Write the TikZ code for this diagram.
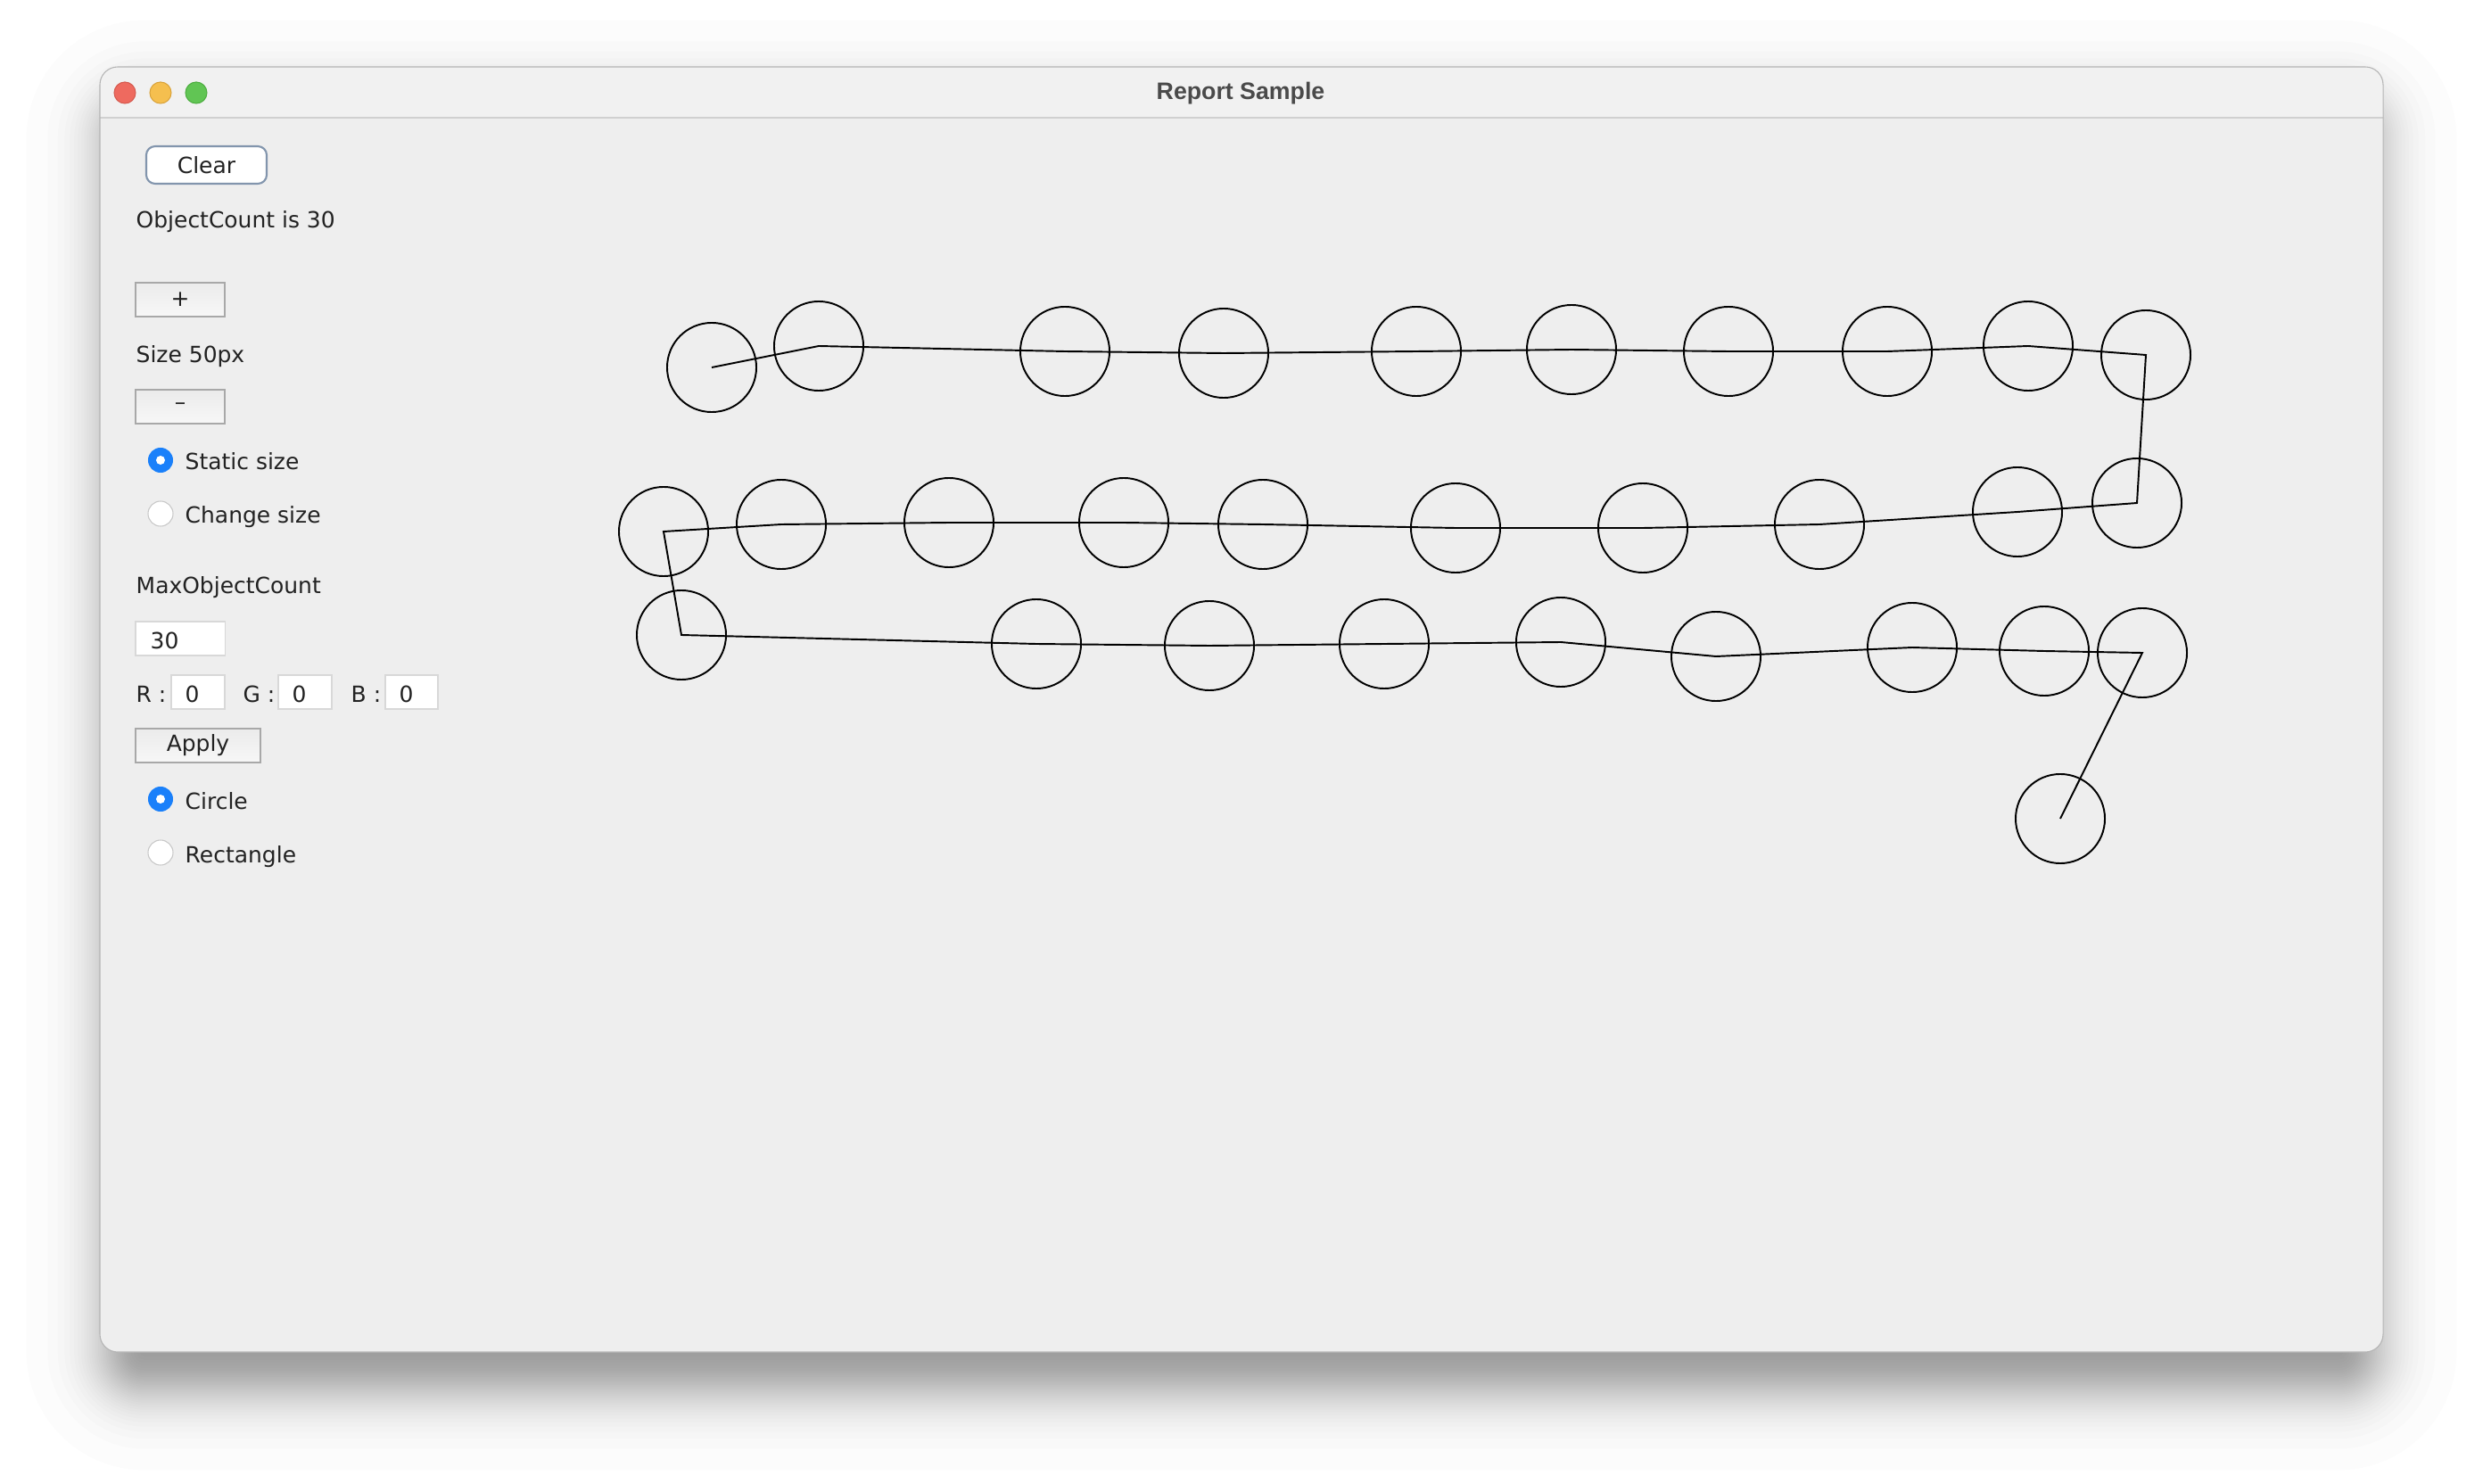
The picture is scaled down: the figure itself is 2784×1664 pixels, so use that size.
\documentclass[tikz,border=0pt]{standalone}
\usepackage{fontspec}
\setmainfont{DejaVu Sans}
\newfontfamily\titlefont{Liberation Sans}
\definecolor{winbody}{HTML}{EEEEEE}
\definecolor{titlebar}{HTML}{F1F1F1}
\definecolor{sepline}{HTML}{D0D0D0}
\definecolor{winborder}{HTML}{B4B4B4}
\definecolor{txt}{HTML}{222222}
\definecolor{titletxt}{HTML}{4A4A4A}
\definecolor{clearborder}{HTML}{8295AD}
\definecolor{btnborder}{HTML}{A8A8A8}
\definecolor{btntop}{HTML}{EBEBEB}
\definecolor{btnbot}{HTML}{F7F7F7}
\definecolor{fieldborder}{HTML}{D8D8D8}
\definecolor{radioblue}{HTML}{1A80FA}
\definecolor{radiogray}{HTML}{C8C8C8}
\definecolor{tlred}{HTML}{EE6A5F}
\definecolor{tlredb}{HTML}{D55A4F}
\definecolor{tlyel}{HTML}{F5BF4F}
\definecolor{tlyelb}{HTML}{D9A33C}
\definecolor{tlgrn}{HTML}{61C554}
\definecolor{tlgrnb}{HTML}{4DAD40}
\tikzset{
  uifont/.style={font=\fontsize{7.1pt}{8.5pt}\selectfont, text=txt},
  lbl/.style={uifont, anchor=base west, inner sep=0pt},
  light/.style={circle, minimum size=0.24cm, inner sep=0pt, line width=0.3pt},
  btn/.style={uifont, rectangle, draw=btnborder, line width=0.55pt, top color=btntop, bottom color=btnbot, minimum width=1cm, minimum height=0.38cm, inner sep=0pt},
  field/.style={rectangle, fill=white, draw=fieldborder, line width=0.3pt, minimum height=0.38cm, inner sep=0pt},
  radioon/.style={circle, fill=radioblue, minimum size=0.28cm, inner sep=0pt},
  radiodot/.style={circle, fill=white, minimum size=0.1cm, inner sep=0pt},
  radiooff/.style={circle, fill=white, draw=radiogray, line width=0.3pt, minimum size=0.28cm, inner sep=0pt},
  obj/.style={circle, draw=black, line width=0.55pt, minimum size=1cm, inner sep=0pt},
  link/.style={draw=black, line width=0.55pt, line join=miter},
  shadowlayer/.style={fill=black, fill opacity=0.0127}
}
\begin{document}
\begin{tikzpicture}[x=0.01cm, y=-0.01cm]
\useasboundingbox (0,0) rectangle (2784,1664);
\fill[white] (0,0) rectangle (2784,1664);
% soft window shadow (layered, gaussian-like)
\foreach \k in {1,...,40} {
  \pgfmathsetmacro\p{(\k-0.5)/40}
  \pgfmathsetmacro\e{36*ln(\p/(1-\p))/1.702}
  \pgfmathsetmacro\rr{max(2,40+\e)*0.01}
  \path[shadowlayer, rounded corners=\rr cm] (122-\e,115-\e) rectangle (2662+\e,1556+\e);
}
% window
\path[fill=winbody, rounded corners=0.2cm] (112,75) rectangle (2672,1516);
\begin{scope}
  \clip[rounded corners=0.2cm] (112,75) rectangle (2672,1516);
  \fill[titlebar] (112,75) rectangle (2672,132);
\end{scope}
\draw[sepline, line width=0.3pt] (112,132) -- (2672,132);
\draw[winborder, line width=0.3pt, rounded corners=0.2cm] (112,75) rectangle (2672,1516);
% traffic lights
\node[light, fill=tlred, draw=tlredb] (close) at (140,104) {};
\node[light, fill=tlyel, draw=tlyelb] (minimize) at (180,104) {};
\node[light, fill=tlgrn, draw=tlgrnb] (zoom) at (220,104) {};
\node[anchor=base, inner sep=0pt, text=titletxt, font=\titlefont\bfseries\fontsize{7.6pt}{9pt}\selectfont] (title) at (1391,112) {Report Sample};
% left panel
\node[uifont, rectangle, rounded corners=0.1cm, fill=white, draw=clearborder, line width=0.6pt, minimum width=1.35cm, minimum height=0.42cm, inner sep=0pt] (clear) at (231.5,185) {Clear};
\node[lbl] (count) at (152,256) {ObjectCount is 30};
\node[btn] (plus) at (202,336) {+};
\node[lbl] (size) at (152,407) {Size 50px};
\node[btn] (minus) at (202,456) {–};
\node[radioon] (rstatic) at (180,516) {};
\node[radiodot] (rstaticdot) at (rstatic.center) {};
\node[lbl] (lstatic) at (207,527) {Static size};
\node[radiooff] (rchange) at (180,576) {};
\node[lbl] (lchange) at (207,587) {Change size};
\node[lbl] (maxlbl) at (152,666) {MaxObjectCount};
\node[field, minimum width=1cm] (maxfield) at (202,716) {};
\node[lbl] (maxval) at (168,727) {30};
\node[lbl] (rlbl) at (152,787) {R :};
\node[field, minimum width=0.6cm] (rfield) at (222,776) {};
\node[lbl] (rval) at (207,787) {0};
\node[lbl] (glbl) at (272,787) {G :};
\node[field, minimum width=0.6cm] (gfield) at (342,776) {};
\node[lbl] (gval) at (327,787) {0};
\node[lbl] (blbl) at (393,787) {B :};
\node[field, minimum width=0.59cm] (bfield) at (461.5,776) {};
\node[lbl] (bval) at (447,787) {0};
\node[btn, minimum width=1.4cm] (apply) at (222,836) {Apply};
\node[radioon] (rcircle) at (180,896) {};
\node[radiodot] (rcircledot) at (rcircle.center) {};
\node[lbl] (lcircle) at (207,907) {Circle};
\node[radiooff] (rrect) at (180,956) {};
\node[lbl] (lrect) at (207,967) {Rectangle};
% canvas objects
\node[obj] (c1) at (798,412) {};
\node[obj] (c2) at (918,388) {};
\node[obj] (c3) at (1194,394) {};
\node[obj] (c4) at (1372,396) {};
\node[obj] (c5) at (1588,394) {};
\node[obj] (c6) at (1762,392) {};
\node[obj] (c7) at (1938,394) {};
\node[obj] (c8) at (2116,394) {};
\node[obj] (c9) at (2274,388) {};
\node[obj] (c10) at (2406,398) {};
\node[obj] (d1) at (744,596) {};
\node[obj] (d2) at (876,588) {};
\node[obj] (d3) at (1064,586) {};
\node[obj] (d4) at (1260,586) {};
\node[obj] (d5) at (1416,588) {};
\node[obj] (d6) at (1632,592) {};
\node[obj] (d7) at (1842,592) {};
\node[obj] (d8) at (2040,588) {};
\node[obj] (d9) at (2262,574) {};
\node[obj] (d10) at (2396,564) {};
\node[obj] (e1) at (764,712) {};
\node[obj] (e2) at (1162,722) {};
\node[obj] (e3) at (1356,724) {};
\node[obj] (e4) at (1552,722) {};
\node[obj] (e5) at (1750,720) {};
\node[obj] (e6) at (1924,736) {};
\node[obj] (e7) at (2144,726) {};
\node[obj] (e8) at (2292,730) {};
\node[obj] (e9) at (2402,732) {};
\node[obj] (f1) at (2310,918) {};
\draw[link] (c1.center) -- (c2.center) -- (c3.center) -- (c4.center) -- (c5.center) -- (c6.center) -- (c7.center) -- (c8.center) -- (c9.center) -- (c10.center)
  -- (d10.center) -- (d9.center) -- (d8.center) -- (d7.center) -- (d6.center) -- (d5.center) -- (d4.center) -- (d3.center) -- (d2.center) -- (d1.center)
  -- (e1.center) -- (e2.center) -- (e3.center) -- (e4.center) -- (e5.center) -- (e6.center) -- (e7.center) -- (e8.center) -- (e9.center) -- (f1.center);
\end{tikzpicture}
\end{document}
